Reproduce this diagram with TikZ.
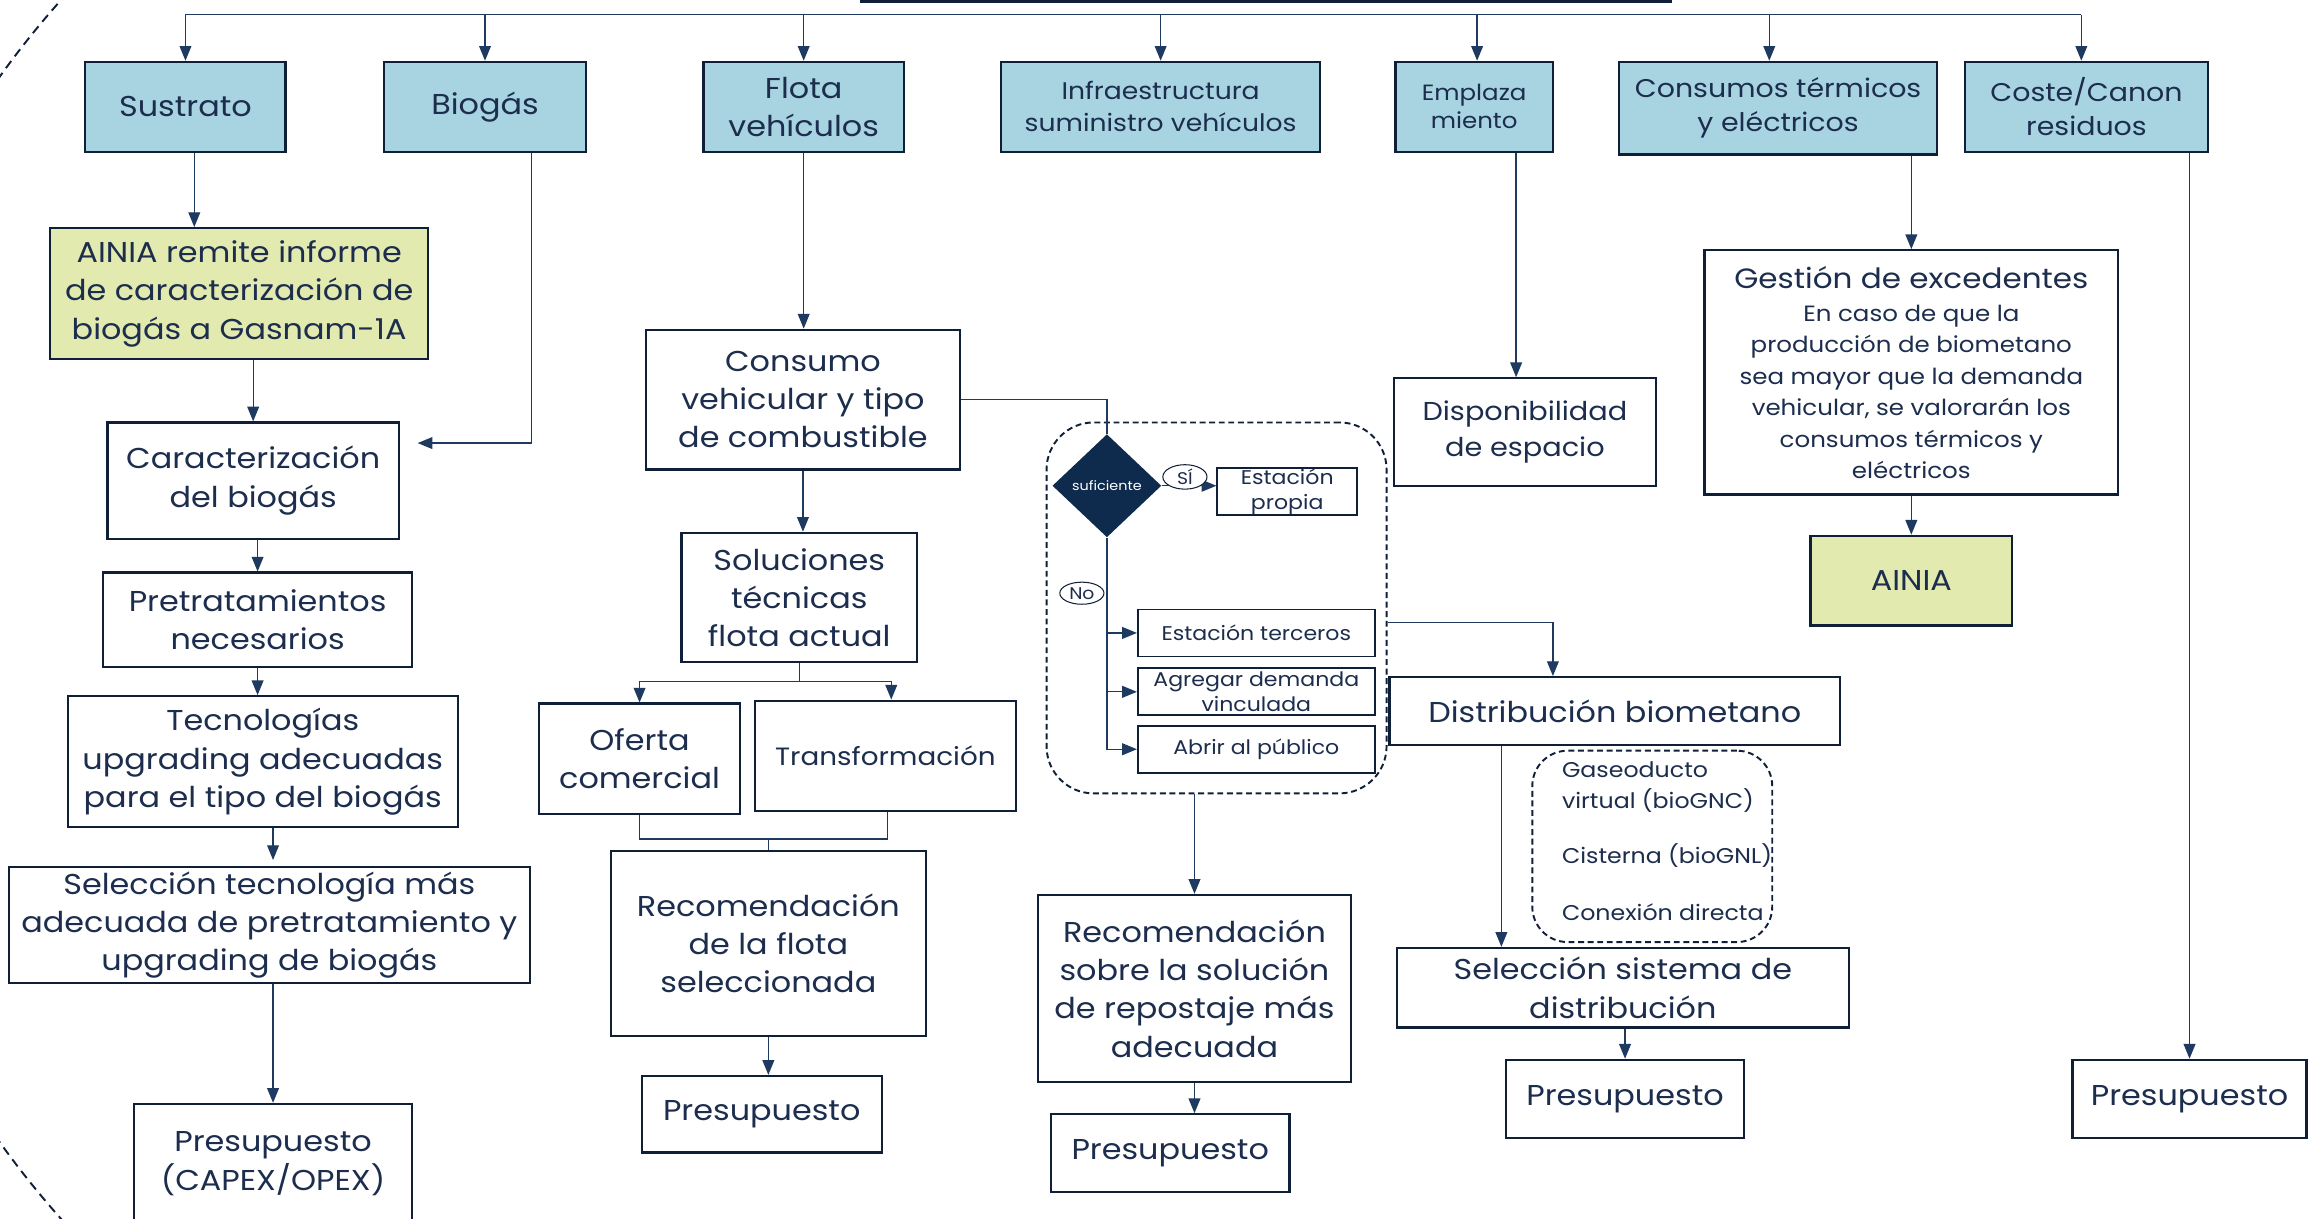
\documentclass[tikz,border=0pt]{standalone}
\usepackage{fontspec}
\setmainfont{Poppins}[FakeStretch=1.11]
\usetikzlibrary{arrows.meta,shapes.geometric,calc}
\definecolor{boxc}{HTML}{0F1F38}
\definecolor{linec}{HTML}{1E3A60}
\definecolor{txt}{HTML}{1C2D4D}
\definecolor{blueA}{HTML}{A8D4E2}
\definecolor{greenA}{HTML}{E2EAB0}
\definecolor{navyA}{HTML}{0E2A4D}
\newcommand\szA{\fontsize{19.5}{26}\selectfont}
\newcommand\szB{\fontsize{17.4}{23}\selectfont}
\newcommand\szC{\fontsize{16.3}{21.5}\selectfont}
\newcommand\szD{\fontsize{15}{19}\selectfont}
\newcommand\szE{\fontsize{13.5}{16.5}\selectfont}
\newcommand\szL{\fontsize{14.5}{21}\selectfont}
\newcommand\szF{\fontsize{8.8}{11}\selectfont}
\newcommand\szG{\fontsize{15}{21.4}\selectfont}
\newcommand\szT{\fontsize{19}{24}\selectfont}
\newcommand\szH{\fontsize{11.5}{14}\selectfont}
\newcommand\szM{\fontsize{17.6}{25}\selectfont}
\newcommand\szN{\fontsize{17}{22}\selectfont}
\newcommand\bx[7]{\node[#6, minimum width={(#4)-(#2)}, minimum height={(#5)-(#3)}] (#1) at ({((#2)+(#4))/2},{((#3)+(#5))/2}) {#7};}
\tikzset{
  blk/.style={draw=boxc, line width=1.5pt, fill=white, text=txt, align=center, inner sep=0pt},
  topbox/.style={blk, fill=blueA},
  greenbox/.style={blk, fill=greenA},
  smallbox/.style={blk, line width=1.2pt, font=\szE},
  dashbox/.style={draw=boxc, line width=1.3pt, dash pattern=on 4pt off 2.5pt, inner sep=0pt},
  plain/.style={draw=linec, line width=0.9pt},
  conn/.style={plain, -{Triangle[length=10pt,width=8pt]}},
  pill/.style={ellipse, draw=boxc, line width=0.7pt, fill=white, text=txt, inner sep=0.5pt, minimum width=30, minimum height=15, font=\szH},
  listtxt/.style={anchor=west, align=left, inner sep=0pt, text=txt, font=\szL}
}
\begin{document}
\begin{tikzpicture}[x=1pt,y=-1pt]
\useasboundingbox (0,0) rectangle (1568,828);
\clip (0,0) rectangle (1568,828);
\fill[white] (0,0) rectangle (1568,828);
% large dashed arc at the left
\draw[boxc, line width=1.3pt, dash pattern=on 6pt off 4pt] (66.5,-26.5) arc[start angle=135, end angle=225, radius=623pt];

% top row
\bx{top}{585}{-60}{1135}{1}{blk}{}
\bx{sustrato}{58}{42}{194}{103}{topbox,font=\szA}{Sustrato}
\bx{biogas}{261}{42}{398}{103}{topbox,font=\szA}{Biogás}
\bx{flota}{478}{42}{614}{103}{topbox,font=\szA}{Flota\\vehículos}
\bx{infra}{680}{42}{897}{103}{topbox,font=\szC}{Infraestructura\\suministro vehículos}
\bx{empl}{948}{42}{1055}{103}{topbox,font=\szD}{Emplaza\\miento}
\bx{consumos}{1100}{42}{1316}{105}{topbox,font=\szB}{Consumos térmicos\\y eléctricos}
\bx{coste}{1335}{42}{1500}{103}{topbox,font=\szB}{Coste/Canon\\residuos}

% column 1
\bx{ainia}{34}{155}{291}{244}{greenbox,font=\szA}{AINIA remite informe\\de caracterización de\\biogás a Gasnam-1A}
\bx{carac}{73}{287}{271}{366}{blk,font=\szA}{Caracterización\\del biogás}
\bx{pret}{70}{389}{280}{453}{blk,font=\szA}{Pretratamientos\\necesarios}
\bx{tec}{46}{473}{311}{562}{blk,font=\szA}{Tecnologías\\upgrading adecuadas\\para el tipo del biogás}
\bx{sel}{6}{589}{360}{668}{blk,font=\szA}{Selección tecnología más\\adecuada de pretratamiento y\\upgrading de biogás}
\bx{capex}{91}{750}{280}{831}{blk,font=\szA}{Presupuesto\\(CAPEX/OPEX)}

% column 2
\bx{consumo}{439}{224}{652}{319}{blk,font=\szA}{Consumo\\vehicular y tipo\\de combustible}
\bx{sol}{463}{362}{623}{450}{blk,font=\szA}{Soluciones\\técnicas\\flota actual}
\bx{oferta}{366}{478}{503}{553}{blk,font=\szA}{Oferta\\comercial}
\bx{transf}{513}{476}{690}{551}{blk,font=\szN}{Transformación}
\bx{rec1}{415}{578}{629}{704}{blk,font=\szA}{Recomendación\\de la flota\\seleccionada}
\bx{p1}{436}{731}{599}{783}{blk,font=\szA}{Presupuesto}

% column 3
\bx{cont}{711}{287}{942}{539}{dashbox,rounded corners=32pt}{}
\node[diamond, fill=navyA, minimum width=74, minimum height=70, inner sep=0pt, text=white, font=\szF] (dec) at (752,330) {suficiente};
\bx{propia}{827}{318}{922}{350}{smallbox}{Estación\\propia}
\bx{terceros}{773}{414}{934}{446}{smallbox}{Estación terceros}
\bx{agregar}{773}{454}{934}{486}{smallbox}{Agregar demanda\\vinculada}
\bx{publico}{773}{493}{934}{525}{smallbox}{Abrir al público}
\bx{rec2}{705}{608}{918}{735}{blk,font=\szA}{Recomendación\\sobre la solución\\de repostaje más\\adecuada}
\bx{p2}{714}{757}{876}{810}{blk,font=\szA}{Presupuesto}

% column 4
\bx{disp}{947}{257}{1125}{330}{blk,font=\szM}{Disponibilidad\\de espacio}
\bx{distrib}{944}{460}{1250}{506}{blk,font=\szA}{Distribución biometano}
\bx{opts}{1041}{510}{1204}{640}{dashbox,rounded corners=24pt}{}
\node[listtxt] (o1) at (1061,535) {Gaseoducto\\virtual (bioGNC)};
\node[listtxt] (o2) at (1061,581) {Cisterna (bioGNL)};
\node[listtxt] (o3) at (1061,620) {Conexión directa};
\bx{selsis}{949}{644}{1256}{698}{blk,font=\szA}{Selección sistema de\\distribución}
\bx{p4}{1023}{720}{1185}{773}{blk,font=\szA}{Presupuesto}

% column 5
\bx{gestion}{1158}{170}{1439}{336}{blk,font=\szG}{{\szT Gestión de excedentes}\\[1pt]En caso de que la\\producción de biometano\\sea mayor que la demanda\\vehicular, se valorarán los\\consumos térmicos y\\eléctricos}
\bx{ainia2}{1230}{364}{1367}{425}{greenbox,font=\szA}{AINIA}
\bx{p5}{1408}{720}{1567}{773}{blk,font=\szA}{Presupuesto}

% bus
\coordinate (busL) at (126,10);
\coordinate (busR) at (1414,10);
\draw[plain] (busL) -- (busR);
\draw[conn] (sustrato.north |- busL) -- (sustrato.north);
\draw[conn] (biogas.north |- busL) -- (biogas.north);
\draw[conn] (flota.north |- busL) -- (flota.north);
\draw[conn] (infra.north |- busL) -- (infra.north);
\draw[conn] ([xshift=2pt]empl.north |- busL) -- ([xshift=2pt]empl.north);
\draw[conn] ([xshift=-6pt]consumos.north |- busL) -- ([xshift=-6pt]consumos.north);
\draw[conn] (busR) -- (busR |- coste.north);

% column 1 connectors
\draw[conn] ([xshift=6pt]sustrato.south) -- ([xshift=6pt]sustrato.south |- ainia.north);
\draw[conn] (carac.north |- ainia.south) -- (carac.north);
\draw[conn] ([xshift=31.5pt]biogas.south) |- ([xshift=12pt,yshift=25.5pt]carac.east);
\draw[conn] (pret.north |- carac.south) -- (pret.north);
\draw[conn] (pret.south) -- (pret.south |- tec.north);
\draw[conn, shorten >=4pt] ([xshift=7pt]tec.south) -- ([xshift=7pt]tec.south |- sel.north);
\draw[conn] (capex.north |- sel.south) -- (capex.north);

% column 2 connectors
\draw[conn] (flota.south) -- (flota.south |- consumo.north);
\draw[plain] (consumo.east) -| (dec.north);
\draw[conn] (consumo.south) -- (consumo.south |- sol.north);
\coordinate (split1) at (543,463);
\draw[plain] (sol.south) -- (split1);
\draw[conn] (split1) -| (oferta.north);
\draw[conn] (split1) -| ([xshift=4pt]transf.north);
\coordinate (join1) at (522,570);
\draw[plain] (oferta.south) |- (join1) -| ([xshift=1.5pt]transf.south);
\draw[plain] (join1) -- (rec1.north);
\draw[conn] (rec1.south) -- (rec1.south |- p1.north);

% column 3 connectors
\draw[conn] (dec.east) -- (dec.east -| propia.west);
\node[pill] (silab) at (805,324) {SÍ};
\draw[conn] (dec.south) |- (publico.west);
\draw[conn] (dec.south |- terceros.west) -- (terceros.west);
\draw[conn] (dec.south |- agregar.west) -- (agregar.west);
\node[pill] (nolab) at (735,403) {No};
\coordinate (tA) at ([yshift=7pt]terceros.east);
\draw[conn] (tA -| cont.east) -| ([xshift=-42pt]distrib.north);
\draw[conn] (rec2.north |- cont.south) -- (rec2.north);
\draw[conn] (rec2.south) -- (rec2.south |- p2.north);

% column 4 connectors
\draw[conn] ([xshift=-6pt]disp.north |- empl.south) -- ([xshift=-6pt]disp.north);
\draw[conn] ([xshift=-77pt]distrib.south) -- ([xshift=-77pt]distrib.south |- selsis.north);
\draw[conn] (p4.north |- selsis.south) -- (p4.north);

% column 5 connectors
\draw[conn] (gestion.north |- consumos.south) -- (gestion.north);
\draw[conn] (gestion.south) -- (ainia2.north);
\draw[conn] (p5.north |- coste.south) -- (p5.north);
\end{tikzpicture}
\end{document}
